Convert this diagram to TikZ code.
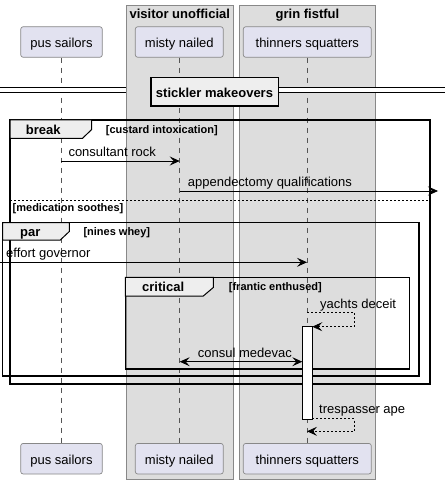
\documentclass[tikz,border=0pt]{standalone}
\usepackage{fontspec}
\setmainfont{Liberation Sans}
\usetikzlibrary{arrows.meta}
\definecolor{partfill}{HTML}{E2E2F0}
\definecolor{boxfill}{HTML}{DDDDDD}
\definecolor{tabfill}{HTML}{EEEEEE}
\definecolor{bordergray}{HTML}{888888}
\definecolor{lifegray}{HTML}{555555}
\begin{document}
\begin{tikzpicture}[x=1pt,y=-1pt,
  part/.style={draw=bordergray, fill=partfill, rounded corners=2.5pt, minimum height=30.6pt,
    inner sep=0pt, text height=12pt, text depth=1pt, font=\fontsize{13}{15}\selectfont, line width=0.7pt},
  lifeline/.style={draw=lifegray, line width=0.6pt, dash pattern=on 5pt off 5pt},
  grpbox/.style={fill=boxfill, draw=bordergray, line width=0.8pt},
  boxtitle/.style={anchor=base, inner sep=0pt, font=\fontsize{13}{15}\selectfont\bfseries},
  frame/.style={draw=black, line width=1.5pt},
  tab/.style={draw=black, fill=tabfill, line width=1pt},
  tabtext/.style={anchor=base west, inner sep=0pt, font=\fontsize{13}{15}\selectfont\bfseries},
  guard/.style={anchor=base west, inner sep=0pt, font=\fontsize{11}{13}\selectfont\bfseries},
  msgtext/.style={anchor=base west, inner sep=0pt, font=\fontsize{13}{15}\selectfont},
  msg/.style={draw=black, line width=0.8pt, -{Stealth[length=10pt,width=9pt,inset=4pt]}},
  dmsg/.style={msg, dash pattern=on 2pt off 2pt},
  bmsg/.style={draw=black, line width=0.8pt, {Stealth[length=10pt,width=9pt,inset=4pt]}-{Stealth[length=10pt,width=9pt,inset=4pt]}},
]
\useasboundingbox (0,0) rectangle (445,484);
\fill[white] (0,0) rectangle (445,484);
% group boxes
\draw[grpbox] (126.3,5.7) rectangle (233.3,479);
\draw[grpbox] (239.3,5.7) rectangle (375.7,479);
\node[boxtitle] (t1) at (179.8,18.3) {visitor unofficial};
\node[boxtitle] (t2) at (307.5,18.3) {grin fistful};
% participants
\node[part, minimum width=81.6pt] (pusT) at (61.5,42) {pus sailors};
\node[part, minimum width=88pt] (misT) at (179.3,42) {misty nailed};
\node[part, minimum width=128pt] (thiT) at (307.3,42) {thinners squatters};
\node[part, minimum width=81.6pt] (pusB) at (61.5,458.7) {pus sailors};
\node[part, minimum width=88pt] (misB) at (179.3,458.7) {misty nailed};
\node[part, minimum width=128pt] (thiB) at (307.3,458.7) {thinners squatters};
\draw[lifeline] (pusT.south) -- (pusB.north);
\draw[lifeline] (misT.south) -- (misB.north);
\draw[lifeline] (thiT.south) -- (thiB.north);
% divider
\fill[white] (0,87.3) rectangle (126.3,92.7);
\fill[white] (278.3,87.3) rectangle (445,92.7);
\draw[line width=0.8pt] (0,87.3) -- (126.3,87.3) (0,92.7) -- (126.3,92.7);
\draw[line width=0.8pt] (278.3,87.3) -- (445,87.3) (278.3,92.7) -- (445,92.7);
\node[draw=black, line width=1.6pt, fill=tabfill, minimum width=127.6pt, minimum height=28.3pt,
  inner sep=0pt, text height=12pt, text depth=1pt, font=\fontsize{13}{15}\selectfont\bfseries] (div) at (214.5,91.8) {stickler makeovers};
% break frame
\draw[frame] (10,120) rectangle (430,384);
\draw[tab] (10,120) -- (91.7,120) -- (91.7,129.5) -- (82.5,138.3) -- (10,138.3) -- cycle;
\node[tabtext] (brk) at (25.7,134.5) {break};
\node[guard] (g1) at (105.7,133) {[custard intoxication]};
\draw[line width=0.8pt, dash pattern=on 2pt off 2pt] (10,200) -- (430,200);
\node[guard] (g2) at (12.5,211.5) {[medication soothes]};
% par frame
\draw[frame] (2.7,222.7) rectangle (419,376);
\draw[tab] (2.7,222.7) -- (69.3,222.7) -- (69.3,231.5) -- (60.3,240) -- (2.7,240) -- cycle;
\node[tabtext] (parT) at (20,236.3) {par};
\node[guard] (g3) at (83.3,235.5) {[nines whey]};
% critical frame
\draw[frame] (125.3,277.3) rectangle (409.7,369);
\draw[tab] (125.3,277.3) -- (213.3,277.3) -- (213.3,287.5) -- (203.3,296) -- (125.3,296) -- cycle;
\node[tabtext] (crit) at (142,291.7) {critical};
\node[guard] (g4) at (228.7,290) {[frantic enthused]};
% activation
\node[draw=black, fill=white, line width=0.8pt, minimum width=10pt, minimum height=92.3pt, inner sep=0pt] (act) at (307.3,372.85) {};
% message coordinates
\coordinate (m1a) at (61.3,161); \coordinate (m1b) at (179.7,161);
\coordinate (m2a) at (179.7,191); \coordinate (m2b) at (438,191);
\coordinate (m3a) at (0,262.3); \coordinate (m3b) at (307,262.3);
\coordinate (m4a) at (307,312.7); \coordinate (m4b) at (354.3,312.7); \coordinate (m4c) at (354.3,326.7); \coordinate (m4d) at (312.3,326.7);
\coordinate (m5a) at (179.7,361.7); \coordinate (m5b) at (302.3,361.7);
\coordinate (m6a) at (312.3,418.7); \coordinate (m6b) at (354.3,418.7); \coordinate (m6c) at (354.3,431.3); \coordinate (m6d) at (307,431.3);
\draw[msg] (m1a) -- (m1b);
\node[msgtext] (l1) at (68.3,156) {consultant rock};
\draw[msg] (m2a) -- (m2b);
\node[msgtext] (l2) at (187.7,186) {appendectomy qualifications};
\draw[msg] (m3a) -- (m3b);
\node[msgtext] (l3) at (6,257.3) {effort governor};
\draw[dmsg] (m4a) -- (m4b) -- (m4c) -- (m4d);
\node[msgtext] (l4) at (320,308) {yachts deceit};
\draw[bmsg] (m5a) -- (m5b);
\node[msgtext] (l5) at (197.7,357) {consul medevac};
\draw[dmsg] (m6a) -- (m6b) -- (m6c) -- (m6d);
\node[msgtext] (l6) at (319,413.5) {trespasser ape};
\end{tikzpicture}
\end{document}
